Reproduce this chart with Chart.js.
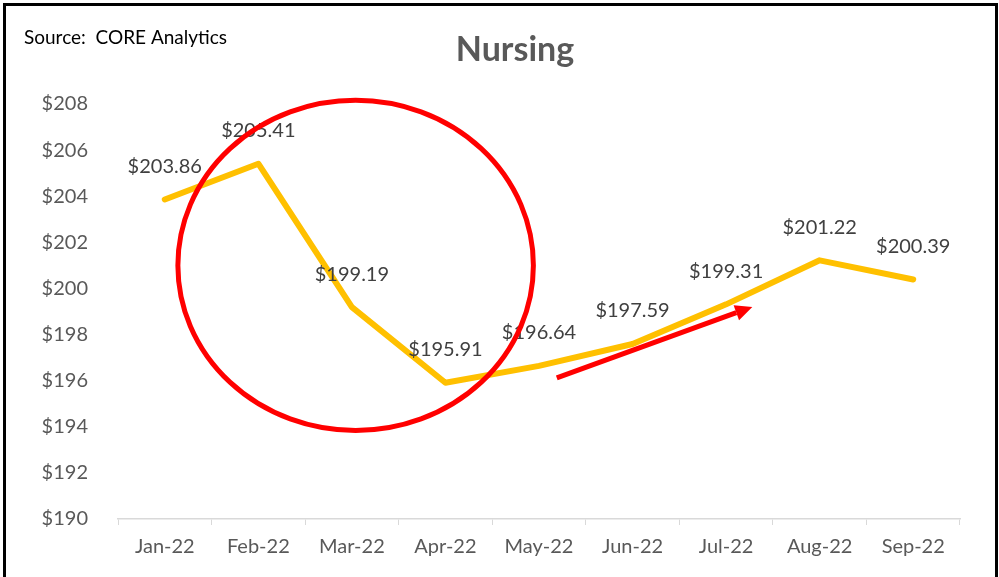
<!DOCTYPE html>
<html>
<head>
<meta charset="utf-8">
<script src="https://cdn.jsdelivr.net/npm/chart.js@4"></script>
<style>
  html, body { margin: 0; padding: 0; background: #fff; overflow: hidden; }
  #wrap { position: absolute; left: 0; top: 0; width: 999px; height: 577px; }
  #frame { position: absolute; left: 3px; top: 3px; width: 989px; height: 600px;
           border: 3px solid #000; pointer-events: none; }
</style>
</head>
<body>
<div id="wrap">
  <canvas id="myChart" width="999" height="577"></canvas>
  <div id="frame"></div>
</div>
<script>
// data
const months = ['Jan-22', 'Feb-22', 'Mar-22', 'Apr-22', 'May-22', 'Jun-22', 'Jul-22', 'Aug-22', 'Sep-22'];
const nursing = [203.86, 205.41, 199.19, 195.91, 196.64, 197.59, 199.31, 201.22, 200.39];
const yTicks = [190, 192, 194, 196, 198, 200, 202, 204, 206, 208];

// annotations, in axis units (category index, dollars)
const ring = { x: 2.04, y: 201.0, rx: 1.9, ry: 7.16 };
const arrow = { x0: 4.19, y0: 196.12, x1: 6.28, y1: 199.2 };

const FONT = 'Lato, "Open Sans", sans-serif';

// title, source note, value labels above the points, red markup
const extras = {
  id: 'extras',
  afterDatasetsDraw(chart) {
    const ctx = chart.ctx;
    const xs = chart.scales.x, ys = chart.scales.y;
    const meta = chart.getDatasetMeta(0);

    ctx.save();
    ctx.textBaseline = 'middle';

    // title
    ctx.font = 'bold 34px ' + FONT;
    ctx.fillStyle = '#595959';
    ctx.textAlign = 'center';
    ctx.fillText('Nursing', 515, 50);

    // source note
    ctx.font = '19px ' + FONT;
    ctx.fillStyle = '#000';
    ctx.textAlign = 'left';
    ctx.fillText('Source:  CORE Analytics', 24, 38);

    // value labels
    ctx.font = '20px ' + FONT;
    ctx.fillStyle = '#404040';
    ctx.textAlign = 'center';
    meta.data.forEach((pt, i) => {
      ctx.fillText('$' + nursing[i].toFixed(2), pt.x, pt.y - 33);
    });

    // circle
    ctx.strokeStyle = '#FF0000';
    ctx.lineWidth = 5;
    const cx = xs.getPixelForValue(ring.x), cy = ys.getPixelForValue(ring.y);
    const rx = xs.getPixelForValue(ring.x + ring.rx) - cx;
    const ry = ys.getPixelForValue(ring.y - ring.ry) - cy;
    ctx.beginPath();
    ctx.ellipse(cx, cy, rx, ry, 0, 0, Math.PI * 2);
    ctx.stroke();

    // arrow
    const ax0 = xs.getPixelForValue(arrow.x0), ay0 = ys.getPixelForValue(arrow.y0);
    const ax1 = xs.getPixelForValue(arrow.x1), ay1 = ys.getPixelForValue(arrow.y1);
    const ang = Math.atan2(ay1 - ay0, ax1 - ax0);
    const head = 17, half = 8;
    const bx = ax1 - head * Math.cos(ang), by = ay1 - head * Math.sin(ang);
    ctx.beginPath();
    ctx.moveTo(ax0, ay0);
    ctx.lineTo(bx, by);
    ctx.stroke();
    ctx.fillStyle = '#FF0000';
    ctx.beginPath();
    ctx.moveTo(ax1, ay1);
    ctx.lineTo(bx + half * Math.sin(ang), by - half * Math.cos(ang));
    ctx.lineTo(bx - half * Math.sin(ang), by + half * Math.cos(ang));
    ctx.closePath();
    ctx.fill();

    ctx.restore();
  }
};

const data = {
  labels: months,
  datasets: [
    {
      label: 'Nursing',
      data: nursing,
      borderColor: '#FFC000',
      backgroundColor: '#FFC000',
      borderWidth: 6,
      borderCapStyle: 'round',
      borderJoinStyle: 'round',
      pointRadius: 0,
      tension: 0,
    },
  ]
};

const config = {
  type: 'line',
  data: data,
  options: {
    responsive: false,
    animation: false,
    layout: { padding: { left: 0, right: 39, top: 104, bottom: 0 } },
    plugins: {
      legend: { display: false },
      tooltip: { enabled: false },
      title: { display: false },
    },
    scales: {
      x: {
        offset: true,
        grid: {
          offset: true,
          drawOnChartArea: false,
          drawTicks: true,
          tickLength: 6,
          color: '#D9D9D9',
        },
        border: { display: true, color: '#D9D9D9', width: 1.5 },
        ticks: {
          color: '#595959',
          font: { family: FONT, size: 20 },
          padding: 10,
          maxRotation: 0,
        },
        afterFit(scale) { scale.height = 58; },
      },
      y: {
        min: 190,
        max: 208,
        grid: { display: false },
        border: { display: false },
        afterBuildTicks(scale) { scale.ticks = yTicks.map(v => ({ value: v })); },
        ticks: {
          color: '#595959',
          font: { family: FONT, size: 20 },
          padding: 22,
          callback: v => '$' + v,
        },
        afterFit(scale) { scale.width = 118; },
      },
    }
  },
  plugins: [extras],
};

var myChart = new Chart(document.getElementById('myChart'), config);
</script>
</body>
</html>
